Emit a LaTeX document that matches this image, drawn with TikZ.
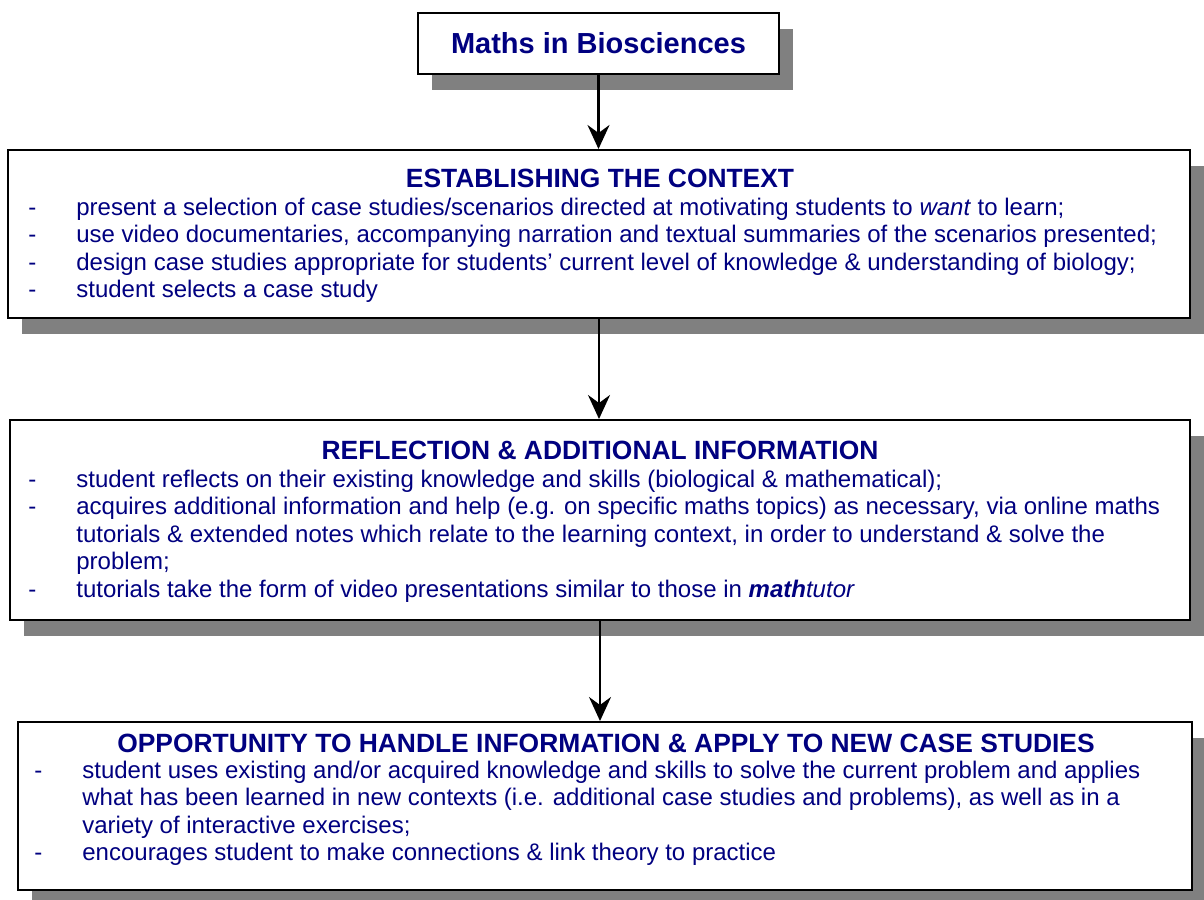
\documentclass[tikz,border=0pt]{standalone}
\usepackage{fontspec}
\setmainfont{Liberation Sans}
\usetikzlibrary{arrows.meta,fit,shadows}

\definecolor{navy}{RGB}{0,0,128}
\definecolor{shade}{RGB}{128,128,128}

\tikzset{
  stagebox/.style={draw=black, line width=1pt, fill=white, inner sep=0pt,
    drop shadow={shadow xshift=7pt, shadow yshift=-8pt, fill=shade, opacity=1}},
  heading/.style={anchor=base, text=navy, inner sep=0pt,
    font=\fontsize{13.2}{15}\selectfont\bfseries},
  points/.style={anchor=base west, text=navy, inner sep=0pt,
    font=\fontsize{12}{13.8}\selectfont},
  flow/.style={-{Stealth[length=12pt,width=11pt,inset=4pt]}, line width=1.2pt},
}

\begin{document}
\begin{tikzpicture}[x=0.5pt,y=-0.5pt]
  \useasboundingbox (0,0) rectangle (1204,899);

  % title box
  \node[stagebox, minimum width=180.5pt, minimum height=30.5pt, text=navy,
        font=\fontsize{14.5}{16}\selectfont\bfseries] (title) at (598.5,43.5)
        {Maths in Biosciences};

  % the three stages
  \node[stagebox, fit={(8,150) (1190,318)}] (ctx) {};
  \node[stagebox, fit={(10,420) (1190,620)}] (refl) {};
  \node[stagebox, fit={(18,722) (1192,890)}] (apply) {};

  % stage 1
  \node[heading] (ctxhead) at (600,187) {ESTABLISHING THE CONTEXT};
  \node[points] (ctxlist) at (28,215) {\begin{tabular}[t]{@{}p{24pt}@{}l@{}}
    - & present a selection of case studies/scenarios directed at motivating students to \textit{want} to learn;\\
    - & use video documentaries, accompanying narration and textual summaries of the scenarios presented;\\
    - & design case studies appropriate for students’ current level of knowledge \& understanding of biology;\\
    - & student selects a case study
  \end{tabular}};

  % stage 2
  \node[heading] (reflhead) at (600,459) {REFLECTION \& ADDITIONAL INFORMATION};
  \node[points] (refllist) at (28,487) {\begin{tabular}[t]{@{}p{24pt}@{}l@{}}
    - & student reflects on their existing knowledge and skills (biological \& mathematical);\\
    - & acquires additional information and help (e.g. on specific maths topics) as necessary, via online maths\\
      & tutorials \& extended notes which relate to the learning context, in order to understand \& solve the\\
      & problem;\\
    - & tutorials take the form of video presentations similar to those in \textbf{\textit{math}}\textit{tutor}
  \end{tabular}};

  % stage 3
  \node[heading] (applyhead) at (606,752) {OPPORTUNITY TO HANDLE INFORMATION \& APPLY TO NEW CASE STUDIES};
  \node[points] (applylist) at (34,778) {\begin{tabular}[t]{@{}p{24pt}@{}l@{}}
    - & student uses existing and/or acquired knowledge and skills to solve the current problem and applies\\
      & what has been learned in new contexts (i.e. additional case studies and problems), as well as in a\\
      & variety of interactive exercises;\\
    - & encourages student to make connections \& link theory to practice
  \end{tabular}};

  % arrows between stages
  \draw[flow] (title.south) -- (title.south |- ctx.north);
  \draw[flow] (ctx.south) -- (ctx.south |- refl.north);
  \draw[flow] (refl.south) -- (refl.south |- apply.north);
\end{tikzpicture}
\end{document}
